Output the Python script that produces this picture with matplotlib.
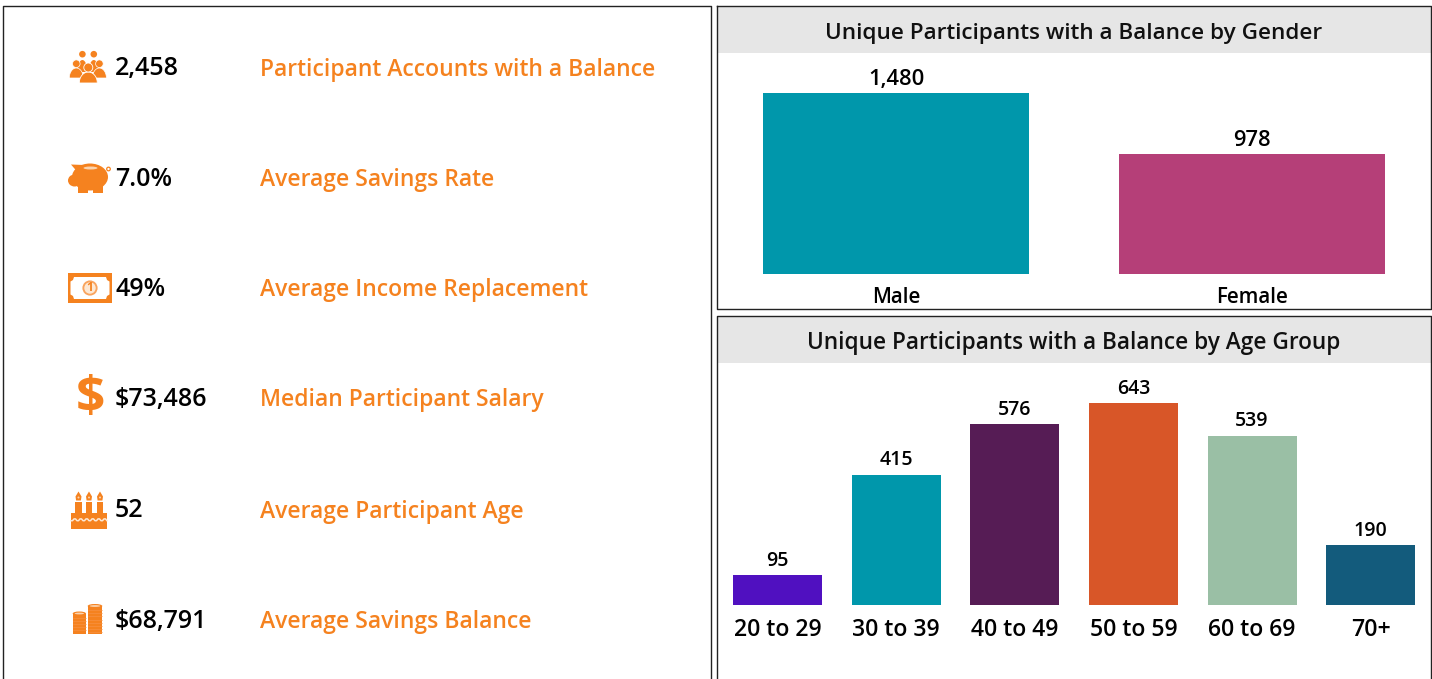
import matplotlib
matplotlib.use("Agg")
import matplotlib.pyplot as plt
import numpy as np
from matplotlib.patches import Rectangle, Circle, Ellipse, Polygon

plt.rcParams['font.family'] = ['Open Sans', 'DejaVu Sans']

W, H = 1432, 679
ORANGE = '#F5821F'
PALE = '#FBD3AE'

kpi_values = ['2,458', '7.0%', '49%', '$73,486', '52', '$68,791']
kpi_labels = ['Participant Accounts with a Balance', 'Average Savings Rate',
              'Average Income Replacement', 'Median Participant Salary',
              'Average Participant Age', 'Average Savings Balance']

genders = ['Male', 'Female']
gender_counts = [1480, 978]
gender_colors = ['#0097AB', '#B53F78']

ages = ['20 to 29', '30 to 39', '40 to 49', '50 to 59', '60 to 69', '70+']
age_counts = [95, 415, 576, 643, 539, 190]
age_colors = ['#5010C0', '#0097AB', '#561C55', '#D85628', '#9ABFA5', '#135B7C']


def px_axes(x0, y_top, x1, y_bottom):
    return fig.add_axes([x0 / W, 1 - y_bottom / H, (x1 - x0) / W, (y_bottom - y_top) / H])


def person(ax, x, head_y, r, body_w, top, base, z, edge=0.0):
    ec = 'white' if edge else ORANGE
    t = np.linspace(np.pi, 2 * np.pi, 24)
    pts = np.column_stack([x + body_w / 2 * np.cos(t), base + (base - top) * np.sin(t)])
    ax.add_patch(Polygon(pts, fc=ORANGE, ec=ec, lw=edge, zorder=z))
    ax.add_patch(Circle((x, head_y), r, fc=ORANGE, ec=ec, lw=edge, zorder=z))


def icon_people(ax):
    person(ax, 82.4, 54.2, 3.3, 10, 60, 72, 3)
    person(ax, 93.8, 54.2, 3.3, 10, 60, 72, 3)
    person(ax, 76.3, 63.7, 3.8, 14, 68, 78, 4, 0.5)
    person(ax, 99.4, 63.7, 3.8, 14, 68, 78, 4, 0.5)
    person(ax, 88.3, 67.5, 4.5, 18, 72, 83, 5, 0.6)


def icon_pig(ax):
    ax.add_patch(Ellipse((90, 177), 36, 27, color=ORANGE, lw=0))
    ax.add_patch(Ellipse((74.5, 180.5), 13, 12, color=ORANGE, lw=0))
    ax.add_patch(Polygon([(71, 164.5), (84, 165), (80, 175)], color=ORANGE, lw=0))
    ax.add_patch(Rectangle((78, 184), 10, 9, color=ORANGE, lw=0))
    ax.add_patch(Rectangle((93, 184), 10, 9, color=ORANGE, lw=0))
    ax.add_patch(Ellipse((90.5, 168), 14, 3, color=PALE, lw=0))
    ax.add_patch(Circle((108.5, 169), 1.8, fc='none', ec=ORANGE, lw=0.9))


def icon_money(ax):
    ax.add_patch(Rectangle((68, 273.3), 44, 29.5, color=ORANGE, lw=0))
    ax.add_patch(Polygon([(74, 277), (106, 277), (107, 280), (109.5, 281.5), (109.5, 294.5),
                          (107, 296), (106, 299), (74, 299), (73, 296), (70.5, 294.5),
                          (70.5, 281.5), (73, 280)], color='white', lw=0))
    ax.add_patch(Circle((90, 288), 7.6, color='#F9A45E', lw=0))
    ax.add_patch(Circle((90, 288), 5.7, color='#FDE8D4', lw=0))
    ax.text(90, 287.5, '1', color=ORANGE, fontsize=8.5, fontweight='bold', ha='center', va='center')


def icon_cake(ax):
    ax.add_patch(Rectangle((71, 513), 36, 15.5, color=ORANGE, lw=0))
    xs = np.arange(71, 107.5, 1.5)
    ys = [519.5 + (1.2 if k % 4 < 2 else -0.6) for k in range(len(xs))]
    ax.plot(xs, ys, color='#FDE8D4', lw=1.1)
    for cx in [78.5, 89, 100]:
        ax.add_patch(Rectangle((cx - 3.4, 501.5), 6.8, 12, color=ORANGE, lw=0))
        ax.add_patch(Polygon([(cx, 491.5), (cx + 3, 496.5), (cx + 2.4, 500.5),
                              (cx - 2.4, 500.5), (cx - 3, 496.5)], color=ORANGE, lw=0))
        ax.add_patch(Circle((cx, 497.5), 1, color=PALE, lw=0))


def icon_coins(ax):
    for x0, w, top in [(72.7, 13.3, 613.5), (87.7, 14.6, 606)]:
        ax.add_patch(Rectangle((x0, top), w, 634 - top, color=ORANGE, lw=0))
        ax.add_patch(Ellipse((x0 + w / 2, top), w, 4, color=ORANGE, lw=0))
        ax.add_patch(Ellipse((x0 + w / 2, top), w - 4, 1.8, color=PALE, lw=0))
        for yy in np.arange(top + 4, 633, 3.2):
            ax.plot([x0 + 0.5, x0 + w - 0.5], [yy, yy], color='#F8954A', lw=0.4)


fig = plt.figure(figsize=(W / 100, H / 100), dpi=100, facecolor='white')

# page layer in pixel coordinates: frames, headers, kpi list
bg = fig.add_axes([0, 0, 1, 1])
bg.set_xlim(0, W)
bg.set_ylim(H, 0)
bg.axis('off')

bg.add_patch(Rectangle((717.5, 317), 713, 46, color='#E6E6E6', lw=0))
bg.add_patch(Rectangle((717.5, 7), 713, 46, color='#E6E6E6', lw=0))
bg.plot([3, 3, 711, 711], [690, 6, 6, 690], color='#222222', lw=1)
bg.plot([717, 1431, 1431, 717, 717], [6, 6, 309, 309, 6], color='#222222', lw=1)
bg.plot([717, 717, 1431, 1431], [690, 316, 316, 690], color='#222222', lw=1)

bg.text(1074, 33, 'Unique Participants with a Balance by Gender', fontsize=16.2,
        fontweight='semibold', ha='center', va='center', color='#111111')
bg.text(1074, 343, 'Unique Participants with a Balance by Age Group', fontsize=16.3,
        fontweight='semibold', ha='center', va='center', color='#111111')

kpi_y = [67, 178, 288, 398, 509, 620]
for yy, val, lab in zip(kpi_y, kpi_values, kpi_labels):
    bg.text(115, yy + 1.5, val, fontsize=18, fontweight='semibold', ha='left', va='center', color='black')
    bg.text(260, yy + 2.5, lab, fontsize=16.5, fontweight='semibold', ha='left', va='center', color=ORANGE)

icon_people(bg)
icon_pig(bg)
icon_money(bg)
icon_cake(bg)
icon_coins(bg)
bg.text(90, 399, '$', color=ORANGE, fontsize=37, fontweight='bold', ha='center', va='center')

# gender bars
ax1 = px_axes(718, 53, 1430, 274)
ax1.patch.set_alpha(0)
ax1.bar(genders, gender_counts, width=0.747, color=gender_colors)
ax1.set_xlim(-0.5, 1.5)
ax1.set_ylim(0, 1807)
for i, v in enumerate(gender_counts):
    ax1.annotate(f'{v:,}', (i, v), xytext=(0, 2.5), textcoords='offset points', ha='center', va='bottom',
                 fontsize=15.8, fontweight='semibold')
ax1.set_yticks([])
ax1.tick_params(axis='x', length=0, pad=9.5, labelsize=14.8)
for lab in ax1.get_xticklabels():
    lab.set_fontweight('semibold')
for s in ax1.spines.values():
    s.set_visible(False)

# age bars
ax2 = px_axes(718, 363, 1430, 605)
ax2.patch.set_alpha(0)
ax2.bar(ages, age_counts, width=0.75, color=age_colors)
ax2.set_xlim(-0.5, 5.5)
ax2.set_ylim(0, 770)
for i, v in enumerate(age_counts):
    ax2.annotate(f'{v:,}', (i, v), xytext=(0, 3), textcoords='offset points', ha='center', va='bottom',
                 fontsize=14, fontweight='semibold')
ax2.set_yticks([])
ax2.tick_params(axis='x', length=0, pad=9, labelsize=16.6)
for lab in ax2.get_xticklabels():
    lab.set_fontweight('semibold')
for s in ax2.spines.values():
    s.set_visible(False)

fig.savefig('out.png', dpi=100)
